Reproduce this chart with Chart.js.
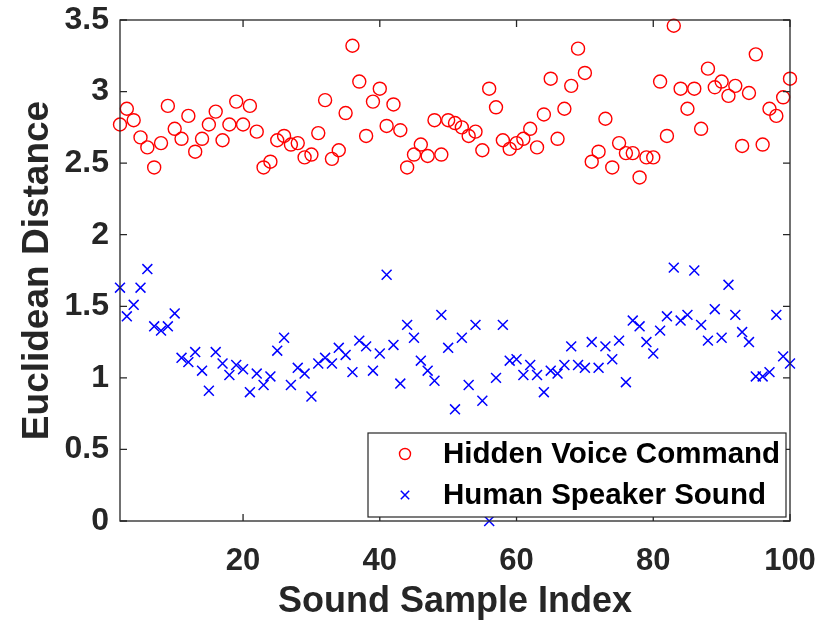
<!DOCTYPE html>
<html>
<head>
<meta charset="utf-8">
<script src="https://cdn.jsdelivr.net/npm/chart.js@4/dist/chart.umd.min.js"></script>
<style>
  html, body { margin: 0; padding: 0; background: #fff; }
  #wrap { width: 829px; height: 620px; }
</style>
</head>
<body>
<div id="wrap"><canvas id="myChart" width="829" height="620"></canvas></div>
<script>
// sample index (x axis starts at 2)
const sampleIndex = [
  2, 3, 4, 5, 6, 7, 8, 9, 10, 11, 12, 13, 14, 15, 16, 17, 18, 19, 20, 21,
  22, 23, 24, 25, 26, 27, 28, 29, 30, 31, 32, 33, 34, 35, 36, 37, 38, 39, 40, 41,
  42, 43, 44, 45, 46, 47, 48, 49, 50, 51, 52, 53, 54, 55, 56, 57, 58, 59, 60, 61,
  62, 63, 64, 65, 66, 67, 68, 69, 70, 71, 72, 73, 74, 75, 76, 77, 78, 79, 80, 81,
  82, 83, 84, 85, 86, 87, 88, 89, 90, 91, 92, 93, 94, 95, 96, 97, 98, 99, 100
];

const hiddenVoice = [
  2.77, 2.88, 2.80, 2.68, 2.61, 2.47, 2.64, 2.90, 2.74, 2.67, 2.83, 2.58, 2.67, 2.77, 2.86, 2.66, 2.77, 2.93, 2.77, 2.90,
  2.72, 2.47, 2.51, 2.66, 2.69, 2.63, 2.64, 2.54, 2.56, 2.71, 2.94, 2.53, 2.59, 2.85, 3.32, 3.07, 2.69, 2.93, 3.02, 2.76,
  2.91, 2.73, 2.47, 2.56, 2.63, 2.55, 2.80, 2.56, 2.80, 2.78, 2.75, 2.69, 2.72, 2.59, 3.02, 2.89, 2.66, 2.60, 2.64, 2.67,
  2.74, 2.61, 2.84, 3.09, 2.67, 2.88, 3.04, 3.30, 3.13, 2.51, 2.58, 2.81, 2.47, 2.64, 2.57, 2.57, 2.40, 2.54, 2.54, 3.07,
  2.69, 3.46, 3.02, 2.88, 3.02, 2.74, 3.16, 3.03, 3.07, 2.97, 3.04, 2.62, 2.99, 3.26, 2.63, 2.88, 2.83, 2.96, 3.09
];

const humanSpeaker = [
  1.63, 1.43, 1.51, 1.63, 1.76, 1.36, 1.33, 1.36, 1.45, 1.14, 1.11, 1.18, 1.05, 0.91, 1.18, 1.10, 1.02, 1.09, 1.06, 0.90,
  1.03, 0.95, 1.01, 1.19, 1.28, 0.95, 1.07, 1.03, 0.87, 1.10, 1.14, 1.10, 1.21, 1.16, 1.04, 1.26, 1.22, 1.05, 1.17, 1.72,
  1.23, 0.96, 1.37, 1.28, 1.12, 1.05, 0.98, 1.44, 1.21, 0.78, 1.28, 0.95, 1.37, 0.84, 0.00, 1.00, 1.37, 1.12, 1.13, 1.02,
  1.09, 1.02, 0.90, 1.05, 1.03, 1.09, 1.22, 1.09, 1.07, 1.25, 1.07, 1.22, 1.13, 1.26, 0.97, 1.40, 1.36, 1.25, 1.17, 1.33,
  1.43, 1.77, 1.40, 1.44, 1.75, 1.37, 1.26, 1.48, 1.28, 1.65, 1.44, 1.32, 1.25, 1.01, 1.01, 1.04, 1.44, 1.15, 1.10
];

const xTicks = [20, 40, 60, 80, 100];
const yTicks = [0, 0.5, 1, 1.5, 2, 2.5, 3, 3.5];

const axisColor = '#262626';
const fontFamily = '"Liberation Sans", Arial, Helvetica, sans-serif';

function toPoints(xs, ys) {
  return xs.map((x, i) => ({ x: x, y: ys[i] }));
}

// box with inward ticks on all four sides, like matlab
const boxPlugin = {
  id: 'boxPlugin',
  afterDatasetsDraw(chart) {
    const { ctx, chartArea: a, scales } = chart;
    const len = 7;
    ctx.save();
    ctx.strokeStyle = axisColor;
    ctx.lineWidth = 1.3;
    ctx.strokeRect(a.left, a.top, a.right - a.left, a.bottom - a.top);
    ctx.beginPath();
    xTicks.forEach(v => {
      const px = scales.x.getPixelForValue(v);
      ctx.moveTo(px, a.bottom); ctx.lineTo(px, a.bottom - len);
      ctx.moveTo(px, a.top); ctx.lineTo(px, a.top + len);
    });
    yTicks.forEach(v => {
      const py = scales.y.getPixelForValue(v);
      ctx.moveTo(a.left, py); ctx.lineTo(a.left + len, py);
      ctx.moveTo(a.right, py); ctx.lineTo(a.right - len, py);
    });
    ctx.stroke();
    ctx.restore();
  }
};

// legend box in the lower right corner of the plot
const legendPlugin = {
  id: 'legendPlugin',
  afterDraw(chart) {
    const { ctx, chartArea: a } = chart;
    const w = 418, h = 84;
    const right = a.right - 4, bottom = a.bottom - 4;
    const left = right - w, top = bottom - h;
    ctx.save();
    ctx.fillStyle = '#fff';
    ctx.fillRect(left, top, w, h);
    ctx.strokeStyle = axisColor;
    ctx.lineWidth = 1.2;
    ctx.strokeRect(left, top, w, h);

    const rows = [top + 21, top + 62];
    chart.data.datasets.forEach((ds, i) => {
      const cy = rows[i];
      const cx = left + 37;
      ctx.strokeStyle = ds.borderColor;
      ctx.lineWidth = ds.borderWidth;
      ctx.beginPath();
      if (ds.pointStyle === 'circle') {
        ctx.arc(cx, cy, 5.5, 0, Math.PI * 2);
      } else {
        const d = 4.2;
        ctx.moveTo(cx - d, cy - d); ctx.lineTo(cx + d, cy + d);
        ctx.moveTo(cx + d, cy - d); ctx.lineTo(cx - d, cy + d);
      }
      ctx.stroke();
      ctx.fillStyle = '#000';
      ctx.font = 'bold 29.5px ' + fontFamily;
      ctx.textBaseline = 'middle';
      ctx.textAlign = 'left';
      ctx.fillText(ds.label, left + 75, cy + 1);
    });
    ctx.restore();
  }
};

const chartContext = document.getElementById('myChart').getContext('2d');
const myChart = new Chart(chartContext, {
  type: 'scatter',
  data: {
    datasets: [
      {
        label: 'Hidden Voice Command',
        data: toPoints(sampleIndex, hiddenVoice),
        pointStyle: 'circle',
        pointRadius: 6.5,
        pointHoverRadius: 6.5,
        backgroundColor: 'rgba(0,0,0,0)',
        borderColor: '#ff0000',
        borderWidth: 1.4,
        clip: false,
      },
      {
        label: 'Human Speaker Sound',
        data: toPoints(sampleIndex, humanSpeaker),
        pointStyle: 'crossRot',
        pointRadius: 7,
        pointHoverRadius: 7,
        backgroundColor: '#0000ff',
        borderColor: '#0000ff',
        borderWidth: 1.5,
        clip: false,
      },
    ],
  },
  options: {
    responsive: false,
    animation: false,
    layout: { padding: { top: 20, right: 39, left: 0, bottom: 0 } },
    plugins: {
      legend: { display: false },
      tooltip: { enabled: false },
    },
    scales: {
      x: {
        type: 'linear',
        min: 2,
        max: 100,
        grid: { display: false, drawTicks: false },
        border: { display: false },
        afterBuildTicks: (scale) => { scale.ticks = xTicks.map(v => ({ value: v })); },
        afterFit: (scale) => {
          scale.height = 99;
          scale.paddingLeft = 0;
          scale.paddingRight = 0;
        },
        ticks: {
          color: axisColor,
          padding: 22,
          font: { family: fontFamily, size: 31, weight: 'bold' },
          callback: (v) => String(v),
        },
        title: {
          display: true,
          text: 'Sound Sample Index',
          color: axisColor,
          padding: { top: 0, bottom: 0 },
          font: { family: fontFamily, size: 36, weight: 'bold', lineHeight: 1 },
        },
      },
      y: {
        type: 'linear',
        min: 0,
        max: 3.5,
        grid: { display: false, drawTicks: false },
        border: { display: false },
        afterBuildTicks: (scale) => { scale.ticks = yTicks.map(v => ({ value: v })); },
        afterFit: (scale) => {
          scale.width = 120;
          scale.paddingTop = 0;
          scale.paddingBottom = 0;
        },
        ticks: {
          color: axisColor,
          padding: 11,
          font: { family: fontFamily, size: 32, weight: 'bold' },
          callback: (v) => String(v),
        },
        title: {
          display: true,
          text: 'Euclidean Distance',
          color: axisColor,
          padding: { top: 16, bottom: 0 },
          font: { family: fontFamily, size: 37, weight: 'bold' },
        },
      },
    },
  },
  plugins: [boxPlugin, legendPlugin],
});
</script>
</body>
</html>
